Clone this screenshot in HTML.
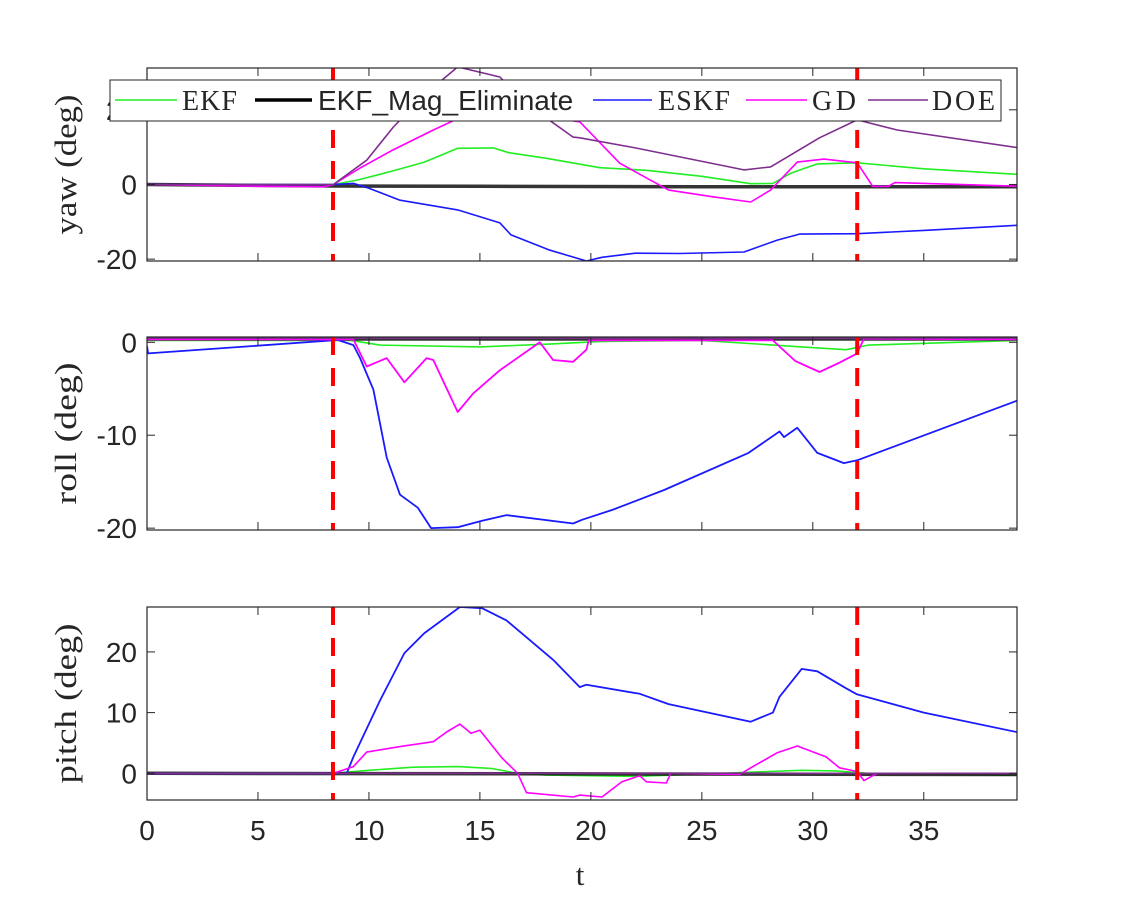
<!DOCTYPE html>
<html><head><meta charset="utf-8"><style>
body{margin:0;background:#fff;}
svg{display:block;}
.tk{font-family:"Liberation Sans",sans-serif;font-size:28px;fill:#262626;}
.lab{font-family:"Liberation Serif",serif;font-size:28px;fill:#262626;}
.ylab{font-family:"Liberation Serif",serif;font-size:31px;fill:#262626;}
</style></head><body>
<svg id="chart" width="1125" height="900" viewBox="0 0 1125 900" xmlns="http://www.w3.org/2000/svg">
<rect width="1125" height="900" fill="#fff"/>
<g id="plots"></g>
<g id="legend">
<rect x="110" y="80" width="891" height="41" fill="#fff" stroke="#262626" stroke-width="1"/>
<g><line x1="115" y1="100" x2="177" y2="100" stroke="#22ee22" stroke-width="1.5"/><text x="182" y="110" class="lab" textLength="55">EKF</text></g>
<g><line x1="255" y1="100" x2="312" y2="100" stroke="#000" stroke-width="3.5"/><text x="318" y="110" class="tk">EKF_Mag_Eliminate</text></g>
<g><line x1="593" y1="100" x2="652" y2="100" stroke="#1a1aff" stroke-width="1.5"/><text x="658" y="110" class="lab" textLength="72">ESKF</text></g>
<g><line x1="746" y1="100" x2="807" y2="100" stroke="#ff00ff" stroke-width="1.5"/><text x="812" y="110" class="lab" textLength="44">GD</text></g>
<g><line x1="868" y1="100" x2="928" y2="100" stroke="#7e2f8e" stroke-width="1.5"/><text x="932" y="110" class="lab" textLength="63">DOE</text></g>
</g>
<text x="580" y="885" class="ylab" text-anchor="middle">t</text>
</svg>
<script>
// x axis
const xTicks = [0,5,10,15,20,25,30,35];
const eventTimes = [8.38, 32.0];
// yaw
const yawTicks = [-20,0,20];
const yawEkfT = [0,8.4,9.5,11,12.5,14,15.6,16.3,18,20.4,22.5,25,27.2,28.2,29,30.2,32,35,39.3];
const yawEkfV = [0,0,1.2,3.5,6,9.7,9.8,8.5,7,4.5,3.8,2.2,0.2,0.3,3,5.5,5.8,4.2,2.7];
const yawMagT = [0,8.4,15,25,39.3];
const yawMagV = [0,-0.4,-0.5,-0.6,-0.6];
const yawEskfT = [0,8.4,9.3,10,11.4,14,15.9,16.4,18.1,19.8,20.5,22,24,26.9,28.4,29.4,32,35,39.3];
const yawEskfV = [0,0,0.3,-1,-4.2,-6.8,-10.3,-13.5,-17.5,-20.5,-19.5,-18.4,-18.5,-18.1,-14.9,-13.3,-13.2,-12.3,-10.9];
const yawGdT = [0,5,8,8.4,9.6,11,12.9,14.5,16.5,18,19.2,19.5,21.3,23.5,25.5,27.2,28.1,29.3,30.5,32,32.7,33.4,33.7,39.3];
const yawGdV = [0,-0.5,-0.6,0,4.4,9,14.6,19,23,22,17,16.8,5.7,-1.5,-3.3,-4.7,-1.5,6,6.8,5.8,-0.5,-0.5,0.5,-0.5];
const yawDoeT = [0,8.4,9.9,11.1,12.5,14,15.9,17,19.2,19.5,22,26.9,28.1,30.3,32,33.8,39.3];
const yawDoeV = [0,0,6.5,15.4,24,31.5,28.8,22,12.7,12.5,9.8,3.9,4.7,12.5,17.3,14.6,9.8];
// roll
const rollTicks = [-20,-10,0];
const rollEkfT = [0,9.2,10.5,15,18,20.5,25,29.5,31.5,32.5,39.3];
const rollEkfV = [0.2,0.2,-0.3,-0.5,-0.2,0.1,0.2,-0.5,-0.8,-0.3,0.2];
const rollMagT = [0,39.3];
const rollMagV = [0.35,0.35];
const rollEskfT = [0,0.05,8.6,9.3,9.6,10.2,10.8,11.4,12.2,12.8,14,15.1,16.2,19.2,19.6,21,23.3,27.1,28.5,28.7,29.3,30.2,31.4,32,39.3];
const rollEskfV = [-0.4,-1.2,0.25,-0.3,-1.7,-5.1,-12.4,-16.4,-17.8,-20,-19.9,-19.2,-18.6,-19.5,-19.1,-18,-15.9,-11.9,-9.6,-10.2,-9.2,-11.9,-13,-12.7,-6.2];
const rollGdT = [0,9.3,9.9,10.8,11.6,12.6,12.9,14,14.7,15.9,17.7,18.3,19.2,19.8,19.9,28.2,29.2,30.3,31.2,32,32.3,39.3];
const rollGdV = [0.3,0.3,-2.6,-1.7,-4.3,-1.7,-1.9,-7.5,-5.5,-3,0,-1.9,-2.1,-0.8,0.2,0.2,-2,-3.2,-2.2,-1.2,0.4,0.3];
const rollDoeT = [0,39.3];
const rollDoeV = [0.45,0.45];
// pitch
const pitchTicks = [0,10,20];
const pitchEkfT = [0,8.4,10,12,14,15.5,16.7,18,22,26,28,29.5,31,32.5,39.3];
const pitchEkfV = [0,0,0.5,1,1.1,0.8,0,-0.3,-0.5,0,0.3,0.5,0.4,0,-0.3];
const pitchMagT = [0,20,39.3];
const pitchMagV = [0,-0.1,-0.2];
const pitchEskfT = [0,9,9.3,10.5,11.6,12.5,14.1,15.1,16.2,18.3,19.5,19.8,22.2,23.5,27.2,28.2,28.5,29.5,30.2,31.5,32,35,39.3];
const pitchEskfV = [0,0,2.7,12,19.8,23.1,27.4,27.2,25.2,18.7,14.2,14.6,13.1,11.4,8.5,10,12.6,17.2,16.8,14,13,10,6.7];
const pitchGdT = [0,8.4,9.3,9.9,11.4,12.9,13.5,14.1,14.6,15,16,16.7,17.1,19.2,19.5,20.5,21.4,22.2,22.5,23.4,23.6,26.7,27.3,28.4,29.3,30.6,31.2,32,32.3,32.9,39.3];
const pitchGdV = [0,0,1.1,3.5,4.4,5.2,6.8,8.1,6.6,7.1,2.5,0,-3.2,-3.9,-3.6,-3.9,-1.4,-0.4,-1.4,-1.6,0,-0.2,1.1,3.4,4.5,2.7,0.9,0.3,-1.2,0,0];
const pitchDoeT = [0,39.3];
const pitchDoeV = [0,0];

const NS = "http://www.w3.org/2000/svg";
const X0 = 147, X1 = 1017, TMAX = 39.2;
function xs(t){ return X0 + (t/TMAX)*(X1-X0); }
const root = document.getElementById('plots');
function mk(tag, attrs, parent){ const e=document.createElementNS(NS,tag); for(const k in attrs) e.setAttribute(k,attrs[k]); parent.appendChild(e); return e; }

function panel(name, top, bottom, ymin, ymax, ticks, label, labLen, series, showX){
  const ys = v => bottom - (v-ymin)/(ymax-ymin)*(bottom-top);
  const g = mk('g',{},root);
  
  
  const clipId = 'clip-'+name;
  const cp = mk('clipPath',{id:clipId},g);
  mk('rect',{x:X0,y:top,width:X1-X0,height:bottom-top},cp);
  const pg = mk('g',{'clip-path':'url(#'+clipId+')'},g);
  series.forEach(s=>{
    const d = s.t.map((t,i)=>(i?'L':'M')+xs(t).toFixed(1)+','+ys(s.v[i]).toFixed(1)).join('');
    const p = mk('path',{d:d,fill:'none',stroke:s.c,'stroke-width':s.w,'stroke-linejoin':'round',opacity:s.o||1},pg);
    
    
  });
  eventTimes.forEach((t,i)=>{
    const l = mk('line',{x1:xs(t),x2:xs(t),y1:top,y2:bottom,stroke:'#ff0000','stroke-width':4,'stroke-dasharray':'18,13'},g);
    
    
  });
  const box = mk('rect',{x:X0,y:top,width:X1-X0,height:bottom-top,fill:'none',stroke:'#262626','stroke-width':1.2},g);
  
  
  xTicks.forEach(t=>{
    const x=xs(t);
    mk('line',{x1:x,x2:x,y1:bottom,y2:bottom-8,stroke:'#262626','stroke-width':1},g);
    mk('line',{x1:x,x2:x,y1:top,y2:top+8,stroke:'#262626','stroke-width':1},g);
    if(showX){
      const tx = mk('text',{x:x,y:bottom+40,'text-anchor':'middle',class:'tk'},g);
      tx.textContent = t;
      
      
    }
  });
  ticks.forEach(v=>{
    const y=ys(v);
    mk('line',{x1:X0,x2:X0+8,y1:y,y2:y,stroke:'#262626','stroke-width':1},g);
    mk('line',{x1:X1,x2:X1-8,y1:y,y2:y,stroke:'#262626','stroke-width':1},g);
    const tx = mk('text',{x:X0-10,y:y+10,'text-anchor':'end',class:'tk'},g);
    tx.textContent = v;
    
    
  });
  const cy=(top+bottom)/2;
  const lt = mk('text',{x:76,y:cy,'text-anchor':'middle',class:'ylab',textLength:labLen,lengthAdjust:'spacingAndGlyphs',transform:'rotate(-90 76 '+cy+')'},g);
  lt.textContent = label;
  
  
}
const C={ekf:'#22ee22',mag:'#111',eskf:'#1a1aff',gd:'#ff00ff',doe:'#7e2f8e'};
panel('yaw',68,261,-20.5,31.2,yawTicks,'yaw (deg)',140,[
  {n:'ekf',t:yawEkfT,v:yawEkfV,c:C.ekf,w:1.6},
  {n:'ekf-mag-eliminate',t:yawMagT,v:yawMagV,c:C.mag,w:3.5,o:0.85},
  {n:'eskf',t:yawEskfT,v:yawEskfV,c:C.eskf,w:1.6},
  {n:'gd',t:yawGdT,v:yawGdV,c:C.gd,w:1.6},
  {n:'doe',t:yawDoeT,v:yawDoeV,c:C.doe,w:1.6}],false);
panel('roll',337,530,-20.2,0.57,rollTicks,'roll (deg)',142,[
  {n:'ekf',t:rollEkfT,v:rollEkfV,c:C.ekf,w:1.6},
  {n:'ekf-mag-eliminate',t:rollMagT,v:rollMagV,c:C.mag,w:3.5,o:0.85},
  {n:'eskf',t:rollEskfT,v:rollEskfV,c:C.eskf,w:1.8},
  {n:'gd',t:rollGdT,v:rollGdV,c:C.gd,w:1.8},
  {n:'doe',t:rollDoeT,v:rollDoeV,c:C.doe,w:1.6}],false);
panel('pitch',607,800,-4.4,27.4,pitchTicks,'pitch (deg)',160,[
  {n:'ekf',t:pitchEkfT,v:pitchEkfV,c:C.ekf,w:1.6},
  {n:'ekf-mag-eliminate',t:pitchMagT,v:pitchMagV,c:C.mag,w:3.5,o:0.85},
  {n:'eskf',t:pitchEskfT,v:pitchEskfV,c:C.eskf,w:1.8},
  {n:'gd',t:pitchGdT,v:pitchGdV,c:C.gd,w:1.6},
  {n:'doe',t:pitchDoeT,v:pitchDoeV,c:C.doe,w:1.6}],true);
</script>
</body></html>
